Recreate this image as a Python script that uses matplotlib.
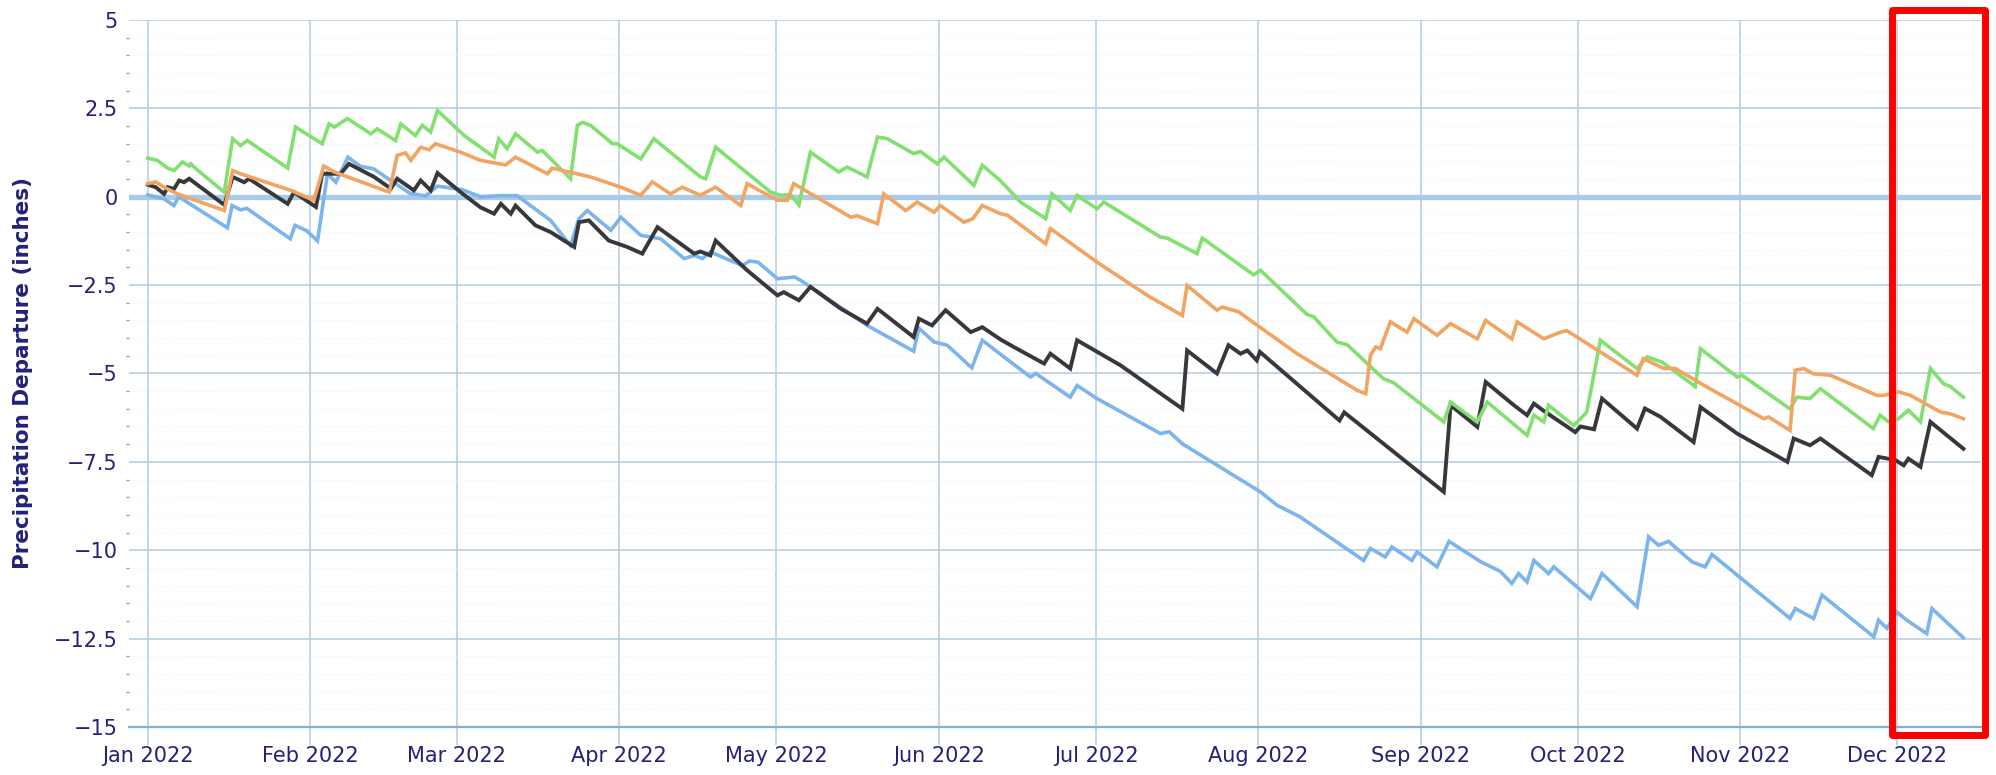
import matplotlib
matplotlib.use("Agg")
import matplotlib.pyplot as plt
import matplotlib.dates as mdates
from matplotlib.patches import Rectangle
from matplotlib.ticker import MultipleLocator, FuncFormatter
import pandas as pd

START = pd.Timestamp("2022-01-01")

# kinks of each curve: days after Jan 1 2022, departure in inches
blue_days = [0, 3.1, 5.0, 5.9, 15.2, 16.1, 17.7, 18.9, 27.2, 28.1, 30.3, 32.4, 34.3, 35.9, 38.2,
             40.6, 43.1, 46.4, 50, 53, 55.3, 60, 63.5, 67.4, 70.5, 76.9, 80.7, 82.3, 83.9, 88.4,
             90.3, 94.1, 97.9, 102.4, 104.3, 105.9, 107.4, 113.5, 114.8, 116.5, 120.2, 123.5, 125,
             137.3, 146.2, 147.2, 150.1, 152.6, 157.3, 159.3, 162.8, 168.5, 169.5, 176.1, 177.4,
             181.2, 193.3, 195, 197.5, 212.4, 215.6, 220.0, 232.1, 233.4, 236.2, 237.5, 241.3,
             242.3, 246.1, 248.4, 254.5, 258.2, 260.4, 261.7, 263.3, 264.6, 267.4, 268.4, 275.4,
             277.6, 284.3, 286.5, 288.4, 290.3, 294.8, 297.3, 298.6, 313.5, 314.5, 318.0, 319.6,
             329.5, 330.4, 332.0, 333.9, 335.8, 339.6, 340.6, 346.6]
blue_vals = [0.05, -0.06, -0.25, 0.0, -0.88, -0.25, -0.37, -0.33, -1.19, -0.81, -0.96, -1.25, 0.65,
             0.41, 1.12, 0.86, 0.79, 0.46, 0.1, 0.02, 0.3, 0.2, 0.0, 0.03, 0.03, -0.67, -1.38, -0.62,
             -0.39, -0.95, -0.58, -1.09, -1.19, -1.75, -1.66, -1.75, -1.56, -1.95, -1.82, -1.85,
             -2.32, -2.27, -2.4, -3.64, -4.37, -3.72, -4.11, -4.20, -4.84, -4.06, -4.46, -5.10,
             -5.0, -5.67, -5.34, -5.71, -6.70, -6.65, -6.99, -8.35, -8.73, -9.06, -10.29, -9.95,
             -10.19, -9.91, -10.29, -10.05, -10.47, -9.75, -10.33, -10.6, -10.94, -10.66, -10.90,
             -10.29, -10.66, -10.47, -11.37, -10.66, -11.60, -9.62, -9.86, -9.75, -10.33, -10.47,
             -10.12, -11.93, -11.65, -11.93, -11.27, -12.45, -11.98, -12.21, -11.75, -11.98,
             -12.36, -11.65, -12.48]

black_days = [0, 1.5, 3.1, 3.8, 5.0, 6.0, 6.9, 7.9, 14.6, 16.2, 18.4, 19.3, 26.7, 27.9, 32.1, 33.3,
              36.8, 38.4, 43.2, 46.4, 47.6, 50.8, 52.1, 54.0, 55.3, 59.7, 63.5, 66.1, 67.4, 69.3,
              70.2, 74.0, 76.9, 81.4, 82.3, 84.2, 88.0, 91.5, 94.4, 97.3, 104.3, 105.5, 107.4,
              108.4, 114.4, 120.2, 121.4, 124.3, 126.5, 132.3, 137.3, 139.3, 146.2, 147.2, 149.7,
              152.3, 157.1, 159.3, 162.8, 165.3, 171.1, 172.3, 176.1, 177.4, 185.7, 197.5, 198.4,
              204.1, 206.3, 208.6, 209.9, 211.7, 212.3, 227.5, 228.4, 247.4, 248.7, 253.8, 255.4,
              260.8, 263.3, 264.6, 266.5, 272.5, 273.5, 276.1, 277.6, 284.3, 285.8, 288.8, 295.1,
              296.4, 303.4, 313.0, 314.2, 317.3, 319.3, 329.1, 330.4, 333.6, 335.2, 336.1, 338.4,
              340.3, 346.6]
black_vals = [0.34, 0.27, 0.08, 0.27, 0.22, 0.46, 0.41, 0.51, -0.23, 0.56, 0.41, 0.51, -0.20, 0.13,
              -0.29, 0.65, 0.65, 0.93, 0.56, 0.23, 0.51, 0.18, 0.46, 0.18, 0.67, 0.13, -0.3, -0.48,
              -0.20, -0.48, -0.25, -0.81, -1.0, -1.42, -0.72, -0.67, -1.24, -1.42, -1.61, -0.86,
              -1.61, -1.55, -1.66, -1.24, -2.08, -2.79, -2.70, -2.93, -2.55, -3.17, -3.59, -3.17,
              -3.97, -3.45, -3.64, -3.21, -3.83, -3.69, -4.04, -4.25, -4.72, -4.44, -4.86, -4.06,
              -4.77, -6.0, -4.35, -5.0, -4.20, -4.44, -4.35, -4.63, -4.39, -6.33, -6.10, -8.35,
              -5.9, -6.51, -5.24, -5.90, -6.18, -5.85, -6.06, -6.66, -6.5, -6.58, -5.71, -6.56,
              -5.99, -6.23, -6.94, -5.95, -6.70, -7.50, -6.84, -7.03, -6.84, -7.88, -7.36, -7.45,
              -7.60, -7.41, -7.64, -6.37, -7.13]

green_days = [0, 1.8, 3.8, 5.0, 6.6, 7.9, 8.2, 9.2, 14.6, 16.2, 17.7, 19.0, 26.7, 28.2, 33.3, 34.6,
              35.6, 38.1, 42.6, 43.8, 47.3, 48.3, 51.1, 52.4, 54.0, 55.3, 60.4, 63.5, 66.1, 67.0,
              68.6, 70.2, 74.4, 75.3, 80.7, 82.0, 83.0, 84.5, 88.7, 89.6, 94.1, 96.6, 105.5, 106.5,
              108.4, 118.9, 120.8, 122.7, 124.3, 126.5, 131.9, 133.5, 137.3, 139.3, 141.2, 146.2,
              147.5, 150.7, 152.0, 157.7, 159.3, 162.8, 166.6, 171.4, 172.6, 176.1, 177.4, 181.2,
              182.5, 193.3, 194.6, 200.3, 201.3, 211.1, 212.4, 221.3, 222.6, 227.0, 229.0, 235.9,
              237.8, 247.4, 248.7, 253.8, 255.7, 263.3, 264.6, 266.5, 267.4, 272.2, 273.5, 274.7,
              277.3, 284.3, 286.2, 289.1, 295.4, 296.4, 303.4, 304.3, 313.5, 314.8, 317.3, 319.3,
              329.4, 330.7, 332.3, 334.2, 336.1, 338.4, 340.3, 342.8, 344.1, 346.6]
green_vals = [1.09, 1.03, 0.81, 0.74, 0.98, 0.87, 0.93, 0.79, 0.13, 1.64, 1.45, 1.59, 0.81, 1.97,
              1.50, 2.06, 1.97, 2.21, 1.78, 1.92, 1.59, 2.06, 1.73, 2.02, 1.83, 2.44, 1.73, 1.40,
              1.12, 1.64, 1.36, 1.78, 1.26, 1.31, 0.51, 2.02, 2.1, 2.02, 1.50, 1.50, 1.07, 1.64,
              0.56, 0.51, 1.40, 0.13, 0.04, 0.06, -0.23, 1.26, 0.70, 0.84, 0.56, 1.69, 1.64, 1.22,
              1.28, 0.93, 1.12, 0.32, 0.89, 0.45, -0.15, -0.62, 0.08, -0.39, 0.04, -0.34, -0.15,
              -1.14, -1.17, -1.61, -1.17, -2.21, -2.08, -3.33, -3.40, -4.11, -4.19, -5.15, -5.26,
              -6.37, -5.81, -6.37, -5.81, -6.75, -6.18, -6.37, -5.90, -6.47, -6.28, -6.09, -4.06,
              -4.86, -4.53, -4.68, -5.37, -4.30, -5.10, -5.05, -6.0, -5.67, -5.71, -5.43, -6.56,
              -6.18, -6.37, -6.28, -6.04, -6.37, -4.86, -5.29, -5.37, -5.67]

orange_days = [0, 1.5, 3.1, 5.7, 14.6, 16.2, 17.7, 27.3, 31.7, 33.6, 35.6, 46.1, 47.6, 49.2, 50.2,
               52.1, 53.7, 54.9, 59.7, 63.5, 68.3, 70.2, 76.3, 77.2, 84.5, 90.3, 94.1, 96.3, 99.8,
               102.0, 105.5, 108.4, 113.2, 114.4, 120.2, 122.1, 123.3, 134.2, 135.4, 139.3, 140.5,
               144.7, 146.9, 150.1, 151.3, 155.8, 157.5, 159.3, 162.8, 164.1, 171.4, 172.3, 181.2,
               190.8, 197.5, 198.4, 204.1, 205.1, 208.3, 210.5, 219.4, 230.9, 232.5, 233.4, 234.4,
               235.3, 237.2, 240.4, 241.7, 246.1, 248.7, 253.8, 255.4, 260.4, 261.4, 266.5, 269.7,
               270.9, 284.3, 285.5, 289.4, 291.6, 297.6, 308.5, 309.4, 313.5, 314.5, 316.1, 318.0,
               321.2, 330.1, 331.4, 334.2, 336.5, 342.2, 344.1, 346.6]
orange_vals = [0.37, 0.42, 0.27, 0.08, -0.39, 0.74, 0.65, 0.18, -0.10, 0.87, 0.70, 0.13, 1.17, 1.24,
               1.03, 1.40, 1.33, 1.50, 1.26, 1.03, 0.90, 1.12, 0.65, 0.81, 0.56, 0.27, 0.04, 0.42,
               0.08, 0.27, 0.04, 0.27, -0.25, 0.37, -0.10, -0.10, 0.37, -0.58, -0.54, -0.76, 0.08,
               -0.39, -0.15, -0.44, -0.25, -0.72, -0.62, -0.25, -0.48, -0.52, -1.33, -0.90, -1.85,
               -2.79, -3.36, -2.51, -3.21, -3.12, -3.26, -3.50, -4.44, -5.48, -5.57, -4.49, -4.25,
               -4.30, -3.54, -3.83, -3.45, -3.92, -3.59, -4.02, -3.50, -4.02, -3.54, -4.02, -3.83,
               -3.79, -5.05, -4.58, -4.86, -4.86, -5.38, -6.28, -6.23, -6.61, -4.91, -4.86, -5.01,
               -5.05, -5.62, -5.62, -5.52, -5.62, -6.09, -6.14, -6.28]

y_ticks = [5, 2.5, 0, -2.5, -5, -7.5, -10, -12.5, -15]

TEXT = "#22227a"
GRID = "#b3cbe3"


def _dates(days):
    return START + pd.to_timedelta(days, unit="D")


def _ytick(v, pos):
    return f"{v:g}".replace("-", "\u2212")


def main():
    fig = plt.figure(figsize=(19.96, 7.75), dpi=100)
    ax = fig.add_axes([0.0646, 0.062, 0.928, 0.9122])

    series = [
        (blue_days, blue_vals, "#7cb5ec", 2.6),
        (black_days, black_vals, "#38383c", 2.8),
        (green_days, green_vals, "#82e070", 2.6),
        (orange_days, orange_vals, "#f2a462", 2.6),
    ]
    for days, vals, color, lw in series:
        ax.plot(_dates(days), vals, color=color, linewidth=lw, zorder=3,
                solid_joinstyle="miter")

    ax.axhline(0, color="#a9cbea", linewidth=3.8, zorder=2)

    ax.set_ylim(min(y_ticks), max(y_ticks))
    ax.set_xlim(START - pd.Timedelta(days=3.6), START + pd.Timedelta(days=350))
    ax.set_yticks(y_ticks)
    ax.yaxis.set_minor_locator(MultipleLocator(0.5))
    ax.yaxis.set_major_formatter(FuncFormatter(_ytick))
    ax.xaxis.set_major_locator(mdates.MonthLocator())
    ax.xaxis.set_major_formatter(mdates.DateFormatter("%b %Y"))

    ax.grid(True, which="major", color=GRID, linewidth=1.1, zorder=1)
    ax.grid(True, which="minor", axis="y", color="#e4ebf3", linewidth=0.7,
            linestyle=(0, (1, 3)), zorder=1)
    ax.set_axisbelow(True)

    for side in ["top", "right", "left"]:
        ax.spines[side].set_visible(False)
    ax.spines["bottom"].set_color("#7fb0dc")
    ax.spines["bottom"].set_linewidth(1.6)

    ax.tick_params(axis="y", which="major", length=0, pad=8, labelsize=15, labelcolor=TEXT)
    ax.tick_params(axis="y", which="minor", length=2.5, width=1, color="#9a9a9a")
    ax.tick_params(axis="x", which="major", length=13, width=1.1, color=GRID, pad=1,
                   labelsize=15, labelcolor=TEXT)

    ax.set_ylabel("Precipitation Departure (inches)", fontsize=15.5, fontweight="bold",
                  color=TEXT)
    ax.yaxis.set_label_coords(-0.052, 0.5)

    # red highlight box round the last weeks
    x0 = mdates.date2num(pd.Timestamp("2022-11-30"))
    x1 = mdates.date2num(pd.Timestamp("2022-12-17 15:00"))
    box = Rectangle((x0, -0.0113), x1 - x0, 1.025, transform=ax.get_xaxis_transform(),
                    fill=False, edgecolor="#ff0000", linewidth=5, clip_on=False, zorder=5,
                    joinstyle="round")
    ax.add_patch(box)

    fig.savefig("out.png", dpi=100, facecolor="white")
    plt.close(fig)


if __name__ == "__main__":
    main()
